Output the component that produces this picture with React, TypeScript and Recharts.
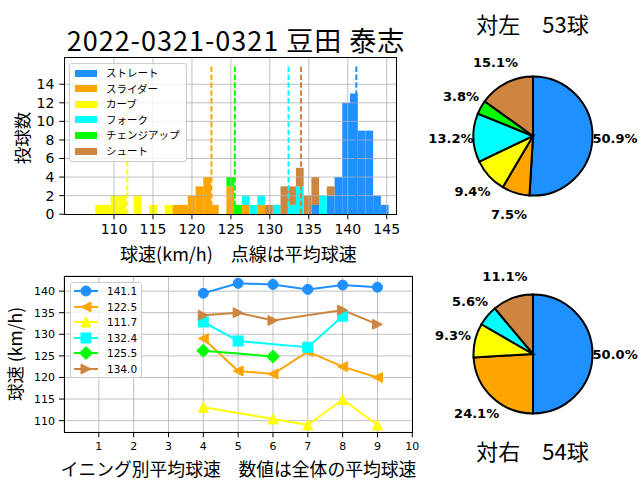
import React from 'react';
import {
  BarChart, Bar, XAxis, YAxis, ReferenceLine, LineChart, Line,
  CartesianGrid, PieChart, Pie, Cell, Legend,
} from 'recharts';

const CJK = '"Noto Sans CJK JP", sans-serif';
const NUM = '"DejaVu Sans", sans-serif';

// pitch types, colours and overall mean speeds
const TYPES = ['ストレート', 'スライダー', 'カーブ', 'フォーク', 'チェンジアップ', 'シュート'];
const KEYS = ['st', 'sl', 'cv', 'fk', 'ch', 'sh'];
const COLORS = ['#1e90ff', '#ffa500', '#ffff00', '#00ffff', '#00ff00', '#cd853f'];
const MEANS = [141.1, 122.5, 111.7, 132.4, 125.5, 134.0];
const MARKERS = ['o', '<', '^', 's', 'D', '>'];

// histogram bins (centre km/h, width 0.991) and stacked counts per type
const BIN_W = 0.991;
const BIN_MID = [
  108.060, 109.051, 110.042, 111.033, 112.024, 113.015, 114.006, 114.997, 115.988, 116.979,
  117.970, 118.961, 119.952, 120.943, 121.934, 122.925, 123.916, 124.907, 125.898, 126.889,
  127.880, 128.871, 129.862, 130.853, 131.844, 132.835, 133.826, 134.817, 135.808, 136.799,
  137.790, 138.781, 139.772, 140.763, 141.754, 142.745, 143.736, 144.727,
];
const H_ST = [0,0,0,0,0,0,0,0,0,0, 0,0,0,0,0,0,0,0,0,0, 0,0,0,0,0,0,0,0,1,0, 2,4,12,13,9,9,2,1];
const H_SL = [0,0,0,0,0,0,0,0,0,0, 1,1,2,3,4,1,0,3,0,1, 0,1,0,0,0,0,0,0,0,0, 0,0,0,0,0,0,0,0];
const H_CV = [1,1,2,2,0,2,0,1,0,1, 0,0,0,0,0,0,0,0,0,0, 0,0,0,0,0,0,0,0,0,0, 0,0,0,0,0,0,0,0];
const H_FK = [0,0,0,0,0,0,0,0,0,0, 0,0,0,0,0,0,0,0,0,1, 1,1,0,1,0,1,3,0,0,2, 0,0,0,0,0,0,0,0];
const H_CH = [0,0,0,0,0,0,0,0,0,0, 0,0,0,0,0,0,0,1,1,0, 0,0,0,0,0,0,0,0,0,0, 0,0,0,0,0,0,0,0];
const H_SH = [0,0,0,0,0,0,0,0,0,0, 0,0,0,0,0,0,0,0,0,0, 0,0,1,0,3,2,2,2,3,0, 1,0,0,0,0,0,0,0];
const HIST_X_TICKS = [110, 115, 120, 125, 130, 135, 140, 145];
const HIST_Y_TICKS = [0, 2, 4, 6, 8, 10, 12, 14];

// average speed by inning
const INNINGS = [4, 5, 6, 7, 8, 9];
const I_ST = [139.5, 141.8, 141.55, 140.4, 141.4, 140.9];
const I_SL = [129.0, 121.5, 120.8, 126.0, 122.5, 120.0];
const I_CV = [113.1, null, 110.4, 109.0, 114.9, 109.0];
const I_FK = [132.85, 128.45, null, 127.0, 134.2, null];
const I_CH = [126.2, null, 124.85, null, null, null];
const I_SH = [134.4, 135.0, 133.2, null, 135.6, 132.3];
const LINE_X_TICKS = [1, 2, 3, 4, 5, 6, 7, 8, 9, 10];
const LINE_Y_TICKS = [110, 115, 120, 125, 130, 135, 140];

// pitch counts vs left / right batters
const VS_L = [27, 4, 5, 7, 2, 8];
const VS_R = [27, 13, 5, 3, 0, 6];

const HIST_ROWS = BIN_MID.map((x, i) => ({
  x, st: H_ST[i], sl: H_SL[i], cv: H_CV[i], fk: H_FK[i], ch: H_CH[i], sh: H_SH[i],
}));
const LINE_ROWS = INNINGS.map((inn, i) => ({
  inn, st: I_ST[i], sl: I_SL[i], cv: I_CV[i], fk: I_FK[i], ch: I_CH[i], sh: I_SH[i],
}));
const pieRows = (counts: number[]) =>
  counts.map((v, i) => ({ name: TYPES[i], value: v, color: COLORS[i] })).filter(d => d.value > 0);

// layout
const H_LEFT = 64.3, H_RIGHT = 396.7, H_TOP = 57.7, H_BOTTOM = 214.2;
const H_XDOM: [number, number] = [103.62, 146.28];
const BIN_PX = BIN_W * (H_RIGHT - H_LEFT) / (H_XDOM[1] - H_XDOM[0]);
const L_TOP = 262;

function Marker({ kind, cx, cy, color }: { kind: string; cx: number; cy: number; color: string }) {
  const s = 5;
  if (kind === 'o') return <circle cx={cx} cy={cy} r={s} fill={color} stroke={color} />;
  if (kind === 's') return <rect x={cx - s} y={cy - s} width={2 * s} height={2 * s} fill={color} stroke={color} />;
  let pts = '';
  if (kind === 'D') pts = `${cx},${cy - 6.5} ${cx + 6.5},${cy} ${cx},${cy + 6.5} ${cx - 6.5},${cy}`;
  if (kind === '^') pts = `${cx},${cy - s} ${cx - s},${cy + s} ${cx + s},${cy + s}`;
  if (kind === '<') pts = `${cx - s},${cy} ${cx + s},${cy - s} ${cx + s},${cy + s}`;
  if (kind === '>') pts = `${cx + s},${cy} ${cx - s},${cy - s} ${cx - s},${cy + s}`;
  return <polygon points={pts} fill={color} stroke={color} strokeWidth={1} />;
}

const binShape = (p: any) =>
  p.height > 0 ? (
    <rect x={p.x + p.width / 2 - BIN_PX / 2} y={p.y} width={BIN_PX} height={p.height} fill={p.fill} />
  ) : <g />;

const boxStyle: React.CSSProperties = {
  position: 'relative', width: '100%', height: '100%', boxSizing: 'border-box',
  border: '1px solid #cccccc', borderRadius: 3, background: 'rgba(255,255,255,0.8)',
};

function HistLegend() {
  return (
    <div style={boxStyle}>
      {TYPES.map((t, i) => (
        <div key={t} style={{ position: 'absolute', left: 0, top: 9 + i * 15.6 - 7, height: 14, width: '100%' }}>
          <div style={{ position: 'absolute', left: 5, top: 3.5, width: 22, height: 7, background: COLORS[i] }} />
          <span style={{ position: 'absolute', left: 36, top: 0, lineHeight: '14px', fontSize: 10.5, fontFamily: CJK, color: '#000', whiteSpace: 'nowrap' }}>{t}</span>
        </div>
      ))}
    </div>
  );
}

function LineLegend() {
  return (
    <div style={boxStyle}>
      {MEANS.map((m, i) => (
        <div key={i} style={{ position: 'absolute', left: 0, top: 8.3 + i * 15.6 - 7, height: 14, width: '100%' }}>
          <svg width={30} height={14} style={{ position: 'absolute', left: 0, top: 0, overflow: 'visible' }}>
            <line x1={3} y1={7} x2={27} y2={7} stroke={COLORS[i]} strokeWidth={2} />
            <Marker kind={MARKERS[i]} cx={15} cy={7} color={COLORS[i]} />
          </svg>
          <span style={{ position: 'absolute', left: 36, top: 0, lineHeight: '14px', fontSize: 10.5, fontFamily: NUM, color: '#000' }}>{m.toFixed(1)}</span>
        </div>
      ))}
    </div>
  );
}

const RAD = Math.PI / 180;
const pctLabel = (p: any) => {
  const r = p.outerRadius * 1.38;
  const x = p.cx + r * Math.cos(-p.midAngle * RAD);
  const y = p.cy + r * Math.sin(-p.midAngle * RAD);
  return (
    <text x={x} y={y} textAnchor="middle" dominantBaseline="central" fontFamily={NUM} fontWeight="bold" fontSize={13} fill="#000">
      {(p.percent * 100).toFixed(1)}%
    </text>
  );
};

function PitchPie({ counts, top }: { counts: number[]; top: number }) {
  const rows = pieRows(counts);
  return (
    <div style={{ position: 'absolute', left: 422.5, top, width: 220, height: 220 }}>
      <PieChart width={220} height={220} margin={{ top: 0, right: 0, bottom: 0, left: 0 }}>
        <Pie data={rows} dataKey="value" cx={110} cy={110} outerRadius={59.5} startAngle={90} endAngle={-270}
          stroke="#000" strokeWidth={2} label={pctLabel} labelLine={false} isAnimationActive={false}>
          {rows.map(d => <Cell key={d.name} fill={d.color} />)}
        </Pie>
      </PieChart>
    </div>
  );
}

const txt = (s: string, x: number, y: number, size: number, rotate = false, spacing = 0): React.ReactNode => (
  <div style={{
    position: 'absolute', left: x, top: y, fontSize: size, fontFamily: CJK, lineHeight: 1, color: '#000',
    whiteSpace: 'nowrap', letterSpacing: spacing, transform: `translate(-50%,-50%)${rotate ? ' rotate(-90deg)' : ''}`,
  }}>{s}</div>
);

const frame = (l: number, t: number, r: number, b: number) => (
  <div style={{ position: 'absolute', left: l - 0.5, top: t - 0.5, width: r - l + 1, height: b - t + 1, border: '1px solid #000', boxSizing: 'border-box', pointerEvents: 'none' }} />
);

export default function App() {
  const tickH = { fontSize: 14, fontFamily: NUM, fill: '#000' };
  const tickL = { fontSize: 11, fontFamily: NUM, fill: '#000' };
  return (
    <div style={{ position: 'absolute', left: 0, top: 0, width: 640, height: 480, background: '#fff', overflow: 'hidden' }}>
      {/* histogram */}
      <div style={{ position: 'absolute', left: 0, top: 0 }}>
        <BarChart width={420} height={262} data={HIST_ROWS} barCategoryGap={0}
          margin={{ top: H_TOP, right: 420 - H_RIGHT, bottom: 0, left: 0 }}>
          <XAxis dataKey="x" type="number" domain={H_XDOM} ticks={HIST_X_TICKS} allowDataOverflow interval={0}
            height={262 - H_BOTTOM} axisLine={false} tickLine={{ stroke: '#000' }} tickSize={5} tickMargin={5} tick={tickH} />
          <YAxis type="number" domain={[0, 16.86]} ticks={HIST_Y_TICKS} allowDataOverflow width={H_LEFT} interval={0}
            axisLine={false} tickLine={{ stroke: '#000' }} tickSize={5} tickMargin={5} tick={tickH} />
          {KEYS.map((k, i) => (
            <Bar key={k} dataKey={k} stackId="h" fill={COLORS[i]} shape={binShape} isAnimationActive={false} />
          ))}
          {HIST_X_TICKS.map(v => <ReferenceLine key={'gx' + v} x={v} stroke="#b0b0b0" strokeWidth={0.8} />)}
          {HIST_Y_TICKS.slice(1).map(v => <ReferenceLine key={'gy' + v} y={v} stroke="#b0b0b0" strokeWidth={0.8} />)}
          {MEANS.map((m, i) => (
            <ReferenceLine key={'m' + i} segment={[{ x: m, y: 0 }, { x: m, y: 16 }]} stroke={COLORS[i]}
              strokeWidth={2} strokeDasharray="5.5 2.4" />
          ))}
          <Legend layout="vertical" align="center" verticalAlign="middle"
            wrapperStyle={{ left: 69, top: 63, width: 118, height: 99 }} content={() => <HistLegend />} />
        </BarChart>
      </div>
      {frame(H_LEFT, H_TOP, H_RIGHT, H_BOTTOM)}

      {/* average speed by inning */}
      <div style={{ position: 'absolute', left: 0, top: L_TOP }}>
        <LineChart width={430} height={218} data={LINE_ROWS}
          margin={{ top: 14, right: 17.7, bottom: 0, left: 0 }}>
          <CartesianGrid stroke="#b0b0b0" strokeWidth={0.8} />
          <XAxis dataKey="inn" type="number" domain={[0, 10]} ticks={LINE_X_TICKS} allowDataOverflow interval={0}
            height={47.7} axisLine={false} tickLine={{ stroke: '#000' }} tickSize={5} tickMargin={5} tick={tickL} />
          <YAxis type="number" domain={[107.3, 143.5]} ticks={LINE_Y_TICKS} allowDataOverflow width={64} interval={0}
            axisLine={false} tickLine={{ stroke: '#000' }} tickSize={5} tickMargin={4} tick={tickL} />
          {KEYS.map((k, i) => (
            <Line key={k} dataKey={k} type="linear" stroke={COLORS[i]} strokeWidth={2} connectNulls
              activeDot={false} isAnimationActive={false}
              dot={(p: any) => (p.cy == null || p.value == null
                ? <g key={k + p.index} />
                : <Marker key={k + p.index} kind={MARKERS[i]} cx={p.cx} cy={p.cy} color={COLORS[i]} />)} />
          ))}
          <Legend layout="vertical" align="center" verticalAlign="middle"
            wrapperStyle={{ left: 70, top: 19.7, width: 71.7, height: 96.6 }} content={() => <LineLegend />} />
        </LineChart>
      </div>
      {frame(64, L_TOP + 14, 412.3, L_TOP + 170.3)}

      <PitchPie counts={VS_L} top={25.5} />
      <PitchPie counts={VS_R} top={243.7} />

      {txt('2022-0321-0321 豆田 泰志', 236, 38.5, 27, false, 1)}
      {txt('球速(km/h)　点線は平均球速', 238.5, 252.5, 18)}
      {txt('投球数', 21.7, 137.5, 17.5, true)}
      {txt('イニング別平均球速　数値は全体の平均球速', 238.5, 468.5, 17.8)}
      {txt('球速 (km/h)', 15, 354, 17.5, true)}
      {txt('対左　53球', 532.5, 23.3, 22)}
      {txt('対右　54球', 532.5, 450, 22)}
    </div>
  );
}
